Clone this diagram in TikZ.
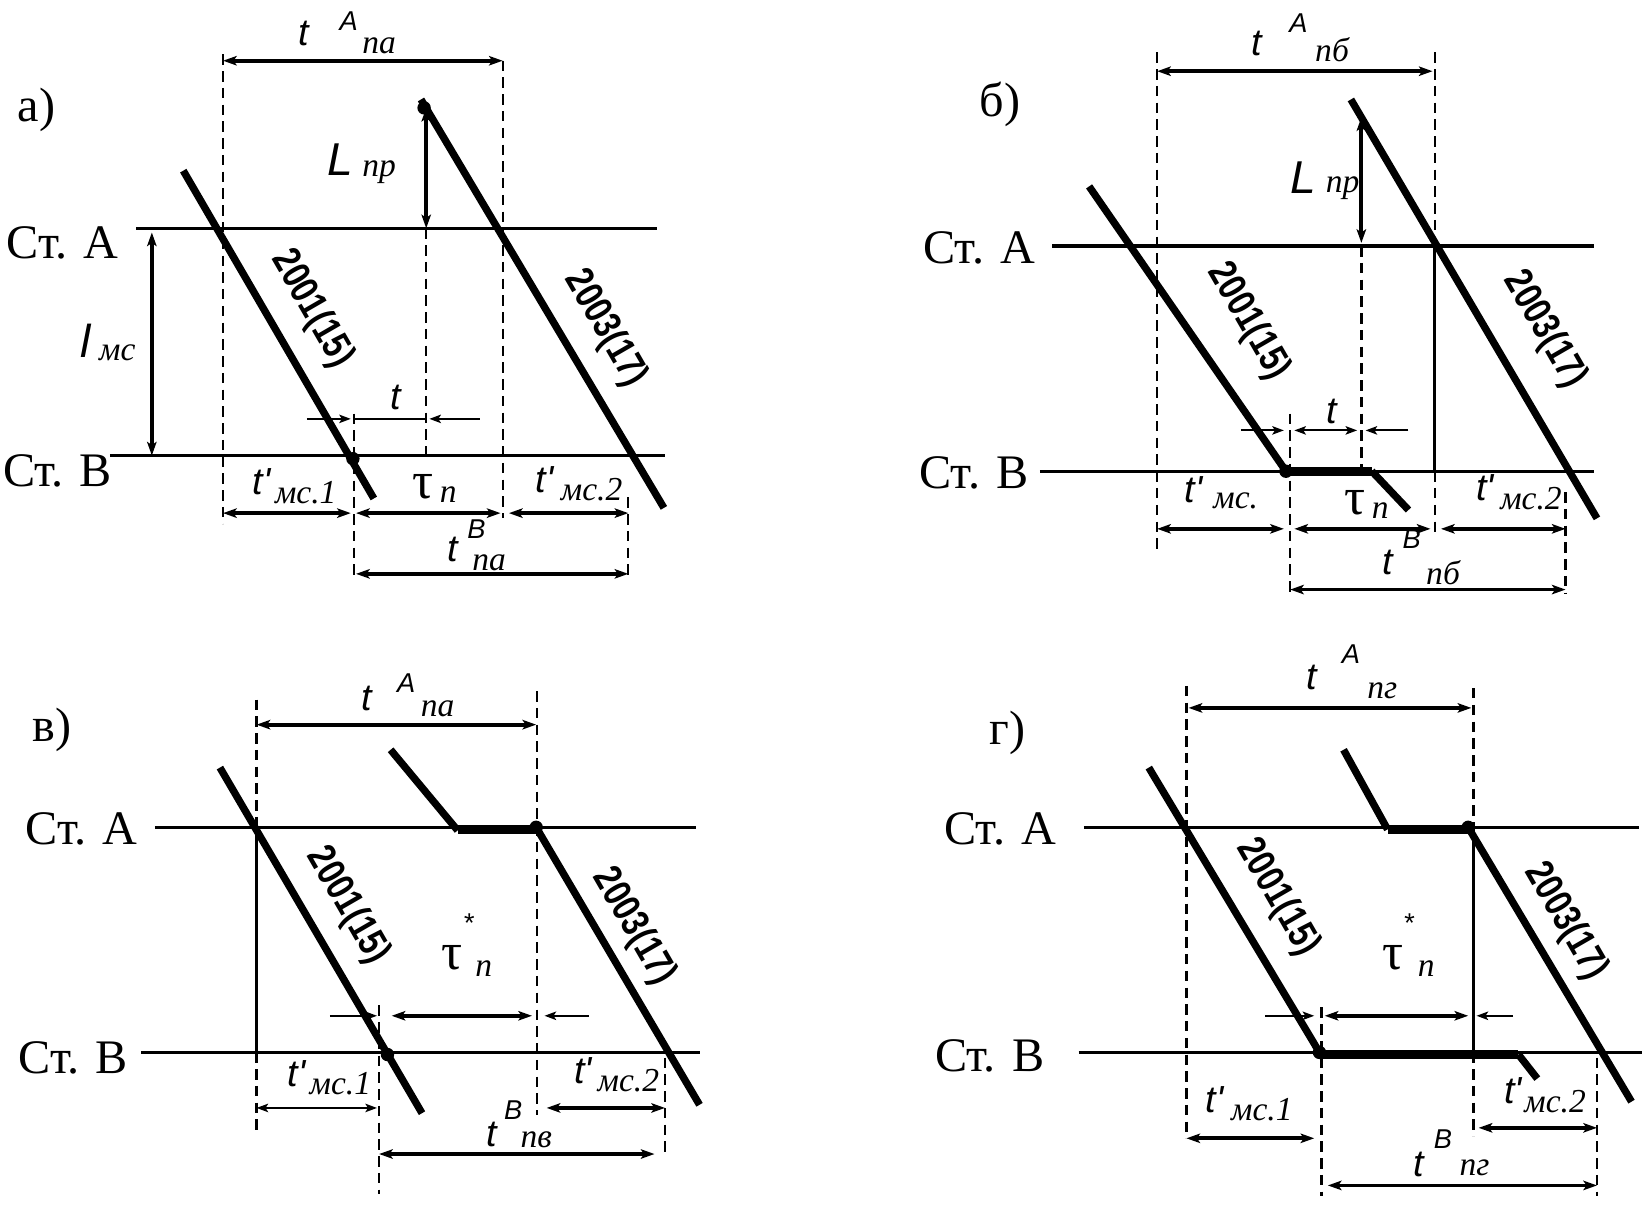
\documentclass[tikz,border=0pt]{standalone}
\usepackage{fontspec}
\setmainfont{Liberation Serif}
\newfontfamily\sansf{Liberation Sans}
\newfontfamily\seriff{Liberation Serif}
\newfontfamily\numf[FakeStretch=0.8]{Liberation Sans}
\usetikzlibrary{arrows.meta}
\begin{document}
\begin{tikzpicture}[x=0.5pt,y=-0.5pt,
  station/.style={line width=1.6pt},
  train/.style={line width=3.5pt},
  stopline/.style={line width=4.5pt},
  guide/.style={line width=1.1pt, dash pattern=on 5pt off 3pt},
  solidguide/.style={line width=1.3pt},
  dim/.style={line width=1.8pt, {Stealth[length=6.5pt,width=4.5pt,inset=1.5pt]}-{Stealth[length=6.5pt,width=4.5pt,inset=1.5pt]}},
  tarr/.style={line width=1pt, -{Stealth[length=5.5pt,width=4pt,inset=1.2pt]}},
  tdim/.style={line width=1pt, {Stealth[length=5.5pt,width=4pt,inset=1.2pt]}-{Stealth[length=5.5pt,width=4pt,inset=1.2pt]}},
  lmain/.style={font=\sansf\itshape\fontsize{18}{18}\selectfont, inner sep=0pt},
  lbig/.style={font=\sansf\itshape\fontsize{22}{22}\selectfont, inner sep=0pt},
  lsub/.style={font=\seriff\itshape\fontsize{16}{16}\selectfont, inner sep=0pt},
  lsup/.style={font=\sansf\itshape\fontsize{13}{13}\selectfont, inner sep=0pt},
  ltau/.style={font=\seriff\fontsize{25}{25}\selectfont, inner sep=0pt},
  st/.style={font=\seriff\fontsize{23}{23}\selectfont, inner sep=0pt},
  num/.style={font=\numf\bfseries\fontsize{19}{19}\selectfont, rotate=-60, inner sep=0pt},
  dot/.style={fill=black}
]
\useasboundingbox (0,0) rectangle (1568,1150);

%================ panel a =================
\node[st] (a-lab) at (35,105) {а)};
\node[st] (a-stA) at (60,232) {Ст. А};
\node[st] (a-stB) at (55,450) {Ст. В};
\draw[station] (130,218) -- (627,218);
\draw[station] (105,435) -- (635,435);
\draw[guide] (213,52) -- (213,500);
\draw[guide] (480,58) -- (480,495);
\draw[guide] (407,218) -- (407,435);
\draw[guide] (338,395) -- (338,552);
\draw[guide] (600,475) -- (600,552);
\draw[train] (175,163) -- (357,476);
\draw[train] (402,95) -- (634,485);
\fill[dot] (337,438) circle (3.2pt);
\fill[dot] (405,103) circle (3.2pt);
\draw[dim] (213,58) -- (480,58);
\draw[dim] (407,103) -- (407,218);
\draw[dim] (145,222) -- (145,435);
\draw[dim] (213,490) -- (335,490);
\draw[dim] (340,490) -- (478,490);
\draw[dim] (486,490) -- (600,490);
\draw[dim] (340,548) -- (600,548);
\draw[tarr] (293,400) -- (335,400);
\draw[line width=1pt] (338,400) -- (407,400);
\draw[tarr] (458,400) -- (410,400);
\node[num] (a-n1) at (298,295) {2001(15)};
\node[num] (a-n2) at (578,314) {2003(17)};
\node[lmain] (a-tA) at (290,32) {t};
\node[lsup] (a-tAs) at (333,20) {A};
\node[lsub] (a-tAi) at (362,44) {па};
\node[lbig] (a-L) at (325,152) {L};
\node[lsub] (a-Li) at (362,164) {пр};
\node[lbig] (a-l) at (82,325) {l};
\node[lsub] (a-li) at (112,337) {мс};
\node[lmain] (a-t) at (378,380) {t};
\node[lmain] (a-t1) at (250,460) {t'};
\node[lsub] (a-t1i) at (292,470) {мс.1};
\node[ltau] (a-tau) at (404,465) {τ};
\node[lsub] (a-taui) at (428,472) {п};
\node[lmain] (a-t2) at (520,458) {t'};
\node[lsub] (a-t2i) at (565,468) {мс.2};
\node[lmain] (a-tB) at (432,525) {t};
\node[lsup] (a-tBs) at (455,505) {B};
\node[lsub] (a-tBi) at (467,537) {па};

%================ panel b =================
\node[st] (b-lab) at (955,100) {б)};
\node[st] (b-stA) at (935,237) {Ст. А};
\node[st] (b-stB) at (930,452) {Ст. В};
\draw[station] (1005,235) -- (1522,235);
\draw[station] (993,450) -- (1522,450);
\draw[guide] (1105,50) -- (1105,525);
\draw[guide] (1370,50) -- (1370,235);
\draw[solidguide] (1370,235) -- (1370,450);
\draw[guide] (1370,450) -- (1370,510);
\draw[guide] (1300,235) -- (1300,450);
\draw[guide] (1232,395) -- (1232,567);
\draw[guide] (1495,470) -- (1495,567);
\draw[train] (1040,178) -- (1228,450);
\draw[stopline] (1228,450) -- (1310,450);
\draw[train] (1310,450) -- (1345,487);
\draw[train] (1290,95) -- (1525,495);
\fill[dot] (1228,450) circle (3.2pt);
\draw[dim] (1105,68) -- (1368,68);
\draw[dim] (1300,112) -- (1300,232);
\draw[tarr] (1185,411) -- (1226,411);
\draw[tdim] (1236,411) -- (1296,411);
\draw[tarr] (1345,411) -- (1304,411);
\draw[dim] (1105,505) -- (1226,505);
\draw[dim] (1236,505) -- (1366,505);
\draw[dim] (1376,505) -- (1495,505);
\draw[dim] (1232,563) -- (1495,563);
\node[num] (b-n1) at (1192,307) {2001(15)};
\node[num] (b-n2) at (1475,315) {2003(17)};
\node[lmain] (b-tA) at (1200,42) {t};
\node[lsup] (b-tAs) at (1240,22) {A};
\node[lsub] (b-tAi) at (1272,47) {пб};
\node[lbig] (b-L) at (1245,170) {L};
\node[lsub] (b-Li) at (1282,180) {пр};
\node[lmain] (b-t) at (1272,393) {t};
\node[lmain] (b-t1) at (1140,468) {t'};
\node[lsub] (b-t1i) at (1180,478) {мс.};
\node[ltau] (b-tau) at (1294,480) {τ};
\node[lsub] (b-taui) at (1318,488) {п};
\node[lmain] (b-t2) at (1418,466) {t'};
\node[lsub] (b-t2i) at (1462,476) {мс.2};
\node[lmain] (b-tB) at (1325,537) {t};
\node[lsup] (b-tBs) at (1348,515) {B};
\node[lsub] (b-tBi) at (1378,547) {пб};

%================ panel v =================
\node[st] (v-lab) at (50,697) {в)};
\node[st] (v-stA) at (78,792) {Ст. А};
\node[st] (v-stB) at (70,1010) {Ст. В};
\draw[station] (148,790) -- (665,790);
\draw[station] (135,1005) -- (668,1005);
\draw[guide] (245,668) -- (245,790);
\draw[solidguide] (245,790) -- (245,1005);
\draw[guide] (245,1005) -- (245,1082);
\draw[guide] (513,660) -- (513,1065);
\draw[guide] (362,960) -- (362,1140);
\draw[guide] (635,1010) -- (635,1105);
\draw[train] (210,733) -- (403,1063);
\draw[train] (373,716) -- (437,793);
\draw[stopline] (437,792) -- (512,792);
\draw[train] (512,790) -- (668,1055);
\fill[dot] (370,1007) circle (3.2pt);
\fill[dot] (512,790) circle (3.2pt);
\draw[dim] (245,692) -- (512,692);
\draw[tarr] (315,970) -- (360,970);
\draw[dim] (374,970) -- (508,970);
\draw[tarr] (562,970) -- (520,970);
\draw[tdim] (245,1058) -- (360,1058);
\draw[dim] (522,1058) -- (635,1058);
\draw[dim] (362,1102) -- (625,1102);
\node[num] (v-n1) at (332,865) {2001(15)};
\node[num] (v-n2) at (605,885) {2003(17)};
\node[lmain] (v-tA) at (350,667) {t};
\node[lsup] (v-tAs) at (388,652) {A};
\node[lsub] (v-tAi) at (418,677) {па};
\node[ltau] (v-tau) at (432,915) {τ};
\node[lsup] (v-taus) at (447,882) {*};
\node[lsub] (v-taui) at (462,925) {п};
\node[lmain] (v-t1) at (283,1025) {t'};
\node[lsub] (v-t1i) at (325,1035) {мс.1};
\node[lmain] (v-t2) at (557,1022) {t'};
\node[lsub] (v-t2i) at (600,1032) {мс.2};
\node[lmain] (v-tB) at (470,1083) {t};
\node[lsup] (v-tBs) at (490,1060) {B};
\node[lsub] (v-tBi) at (512,1088) {пв};

%================ panel g =================
\node[st] (g-lab) at (962,700) {г)};
\node[st] (g-stA) at (955,792) {Ст. А};
\node[st] (g-stB) at (945,1008) {Ст. В};
\draw[station] (1035,790) -- (1565,790);
\draw[station] (1030,1005) -- (1570,1005);
\draw[guide] (1133,655) -- (1133,1087);
\draw[guide] (1407,657) -- (1407,790);
\draw[solidguide] (1407,790) -- (1407,1005);
\draw[guide] (1407,1005) -- (1407,1085);
\draw[guide] (1262,962) -- (1262,1142);
\draw[guide] (1525,1010) -- (1525,1142);
\draw[train] (1097,733) -- (1260,1005);
\draw[stopline] (1260,1007) -- (1450,1007);
\draw[train] (1450,1007) -- (1468,1030);
\draw[train] (1283,716) -- (1325,792);
\draw[stopline] (1325,792) -- (1402,792);
\draw[train] (1402,790) -- (1558,1052);
\fill[dot] (1260,1005) circle (3.2pt);
\fill[dot] (1402,790) circle (3.2pt);
\draw[dim] (1135,676) -- (1405,676);
\draw[tarr] (1208,970) -- (1255,970);
\draw[dim] (1265,970) -- (1402,970);
\draw[tarr] (1445,970) -- (1410,970);
\draw[dim] (1133,1087) -- (1255,1087);
\draw[dim] (1412,1077) -- (1525,1077);
\draw[dim] (1268,1132) -- (1525,1132);
\node[num] (g-n1) at (1220,857) {2001(15)};
\node[num] (g-n2) at (1495,880) {2003(17)};
\node[lmain] (g-tA) at (1253,647) {t};
\node[lsup] (g-tAs) at (1290,625) {A};
\node[lsub] (g-tAi) at (1320,660) {пг};
\node[ltau] (g-tau) at (1330,915) {τ};
\node[lsup] (g-taus) at (1345,882) {*};
\node[lsub] (g-taui) at (1362,925) {п};
\node[lmain] (g-t1) at (1160,1050) {t'};
\node[lsub] (g-t1i) at (1205,1060) {мс.1};
\node[lmain] (g-t2) at (1445,1042) {t'};
\node[lsub] (g-t2i) at (1485,1052) {мс.2};
\node[lmain] (g-tB) at (1355,1112) {t};
\node[lsup] (g-tBs) at (1378,1088) {B};
\node[lsub] (g-tBi) at (1408,1115) {пг};
\end{tikzpicture}
\end{document}
